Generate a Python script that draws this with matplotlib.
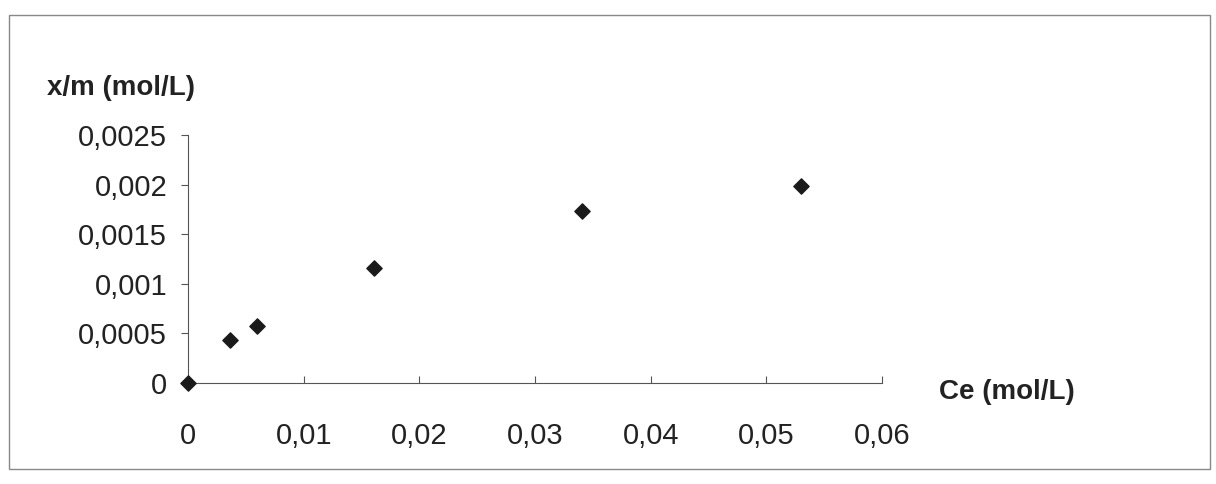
import matplotlib.pyplot as plt
from matplotlib.patches import Rectangle

plt.rcParams['font.family'] = ['Liberation Sans', 'DejaVu Sans']

# data
ce = [0.0, 0.0036, 0.0060, 0.0161, 0.0341, 0.0530]
xm = [0.0, 0.00043, 0.000575, 0.00116, 0.00173, 0.00199]

x_ticks = [0, 0.01, 0.02, 0.03, 0.04, 0.05, 0.06]
x_labels = ['0', '0,01', '0,02', '0,03', '0,04', '0,05', '0,06']
y_ticks = [0, 0.0005, 0.001, 0.0015, 0.002, 0.0025]
y_labels = ['0', '0,0005', '0,001', '0,0015', '0,002', '0,0025']

fig = plt.figure(figsize=(12.16, 4.84), dpi=100)
ax = fig.add_axes([0.1546, 0.2087, 0.5707, 0.5124])

# outer chart frame
fig.patches.append(Rectangle((0.007, 0.03), 0.988, 0.94, transform=fig.transFigure,
                             fill=False, edgecolor='#888888', linewidth=1))

ax.scatter(ce, xm, marker='D', s=60, color='#1a1a1a', zorder=3, clip_on=False)

ax.set_xlim(0, 0.06)
ax.set_ylim(0, 0.0025)
ax.set_xticks(x_ticks)
ax.set_xticklabels(x_labels)
ax.set_yticks(y_ticks)
ax.set_yticklabels(y_labels)

ax.spines['top'].set_visible(False)
ax.spines['right'].set_visible(False)
for s in ['left', 'bottom']:
    ax.spines[s].set_color('#555555')
    ax.spines[s].set_linewidth(0.8)

ax.tick_params(axis='x', direction='in', length=5, pad=28, labelsize=21, color='#555555',
               labelcolor='#222222')
ax.tick_params(axis='y', direction='out', length=5, pad=10, labelsize=21, color='#555555',
               labelcolor='#222222')

fig.text(0.039, 0.818, 'x/m (mol/L)', fontsize=20, fontweight='bold', va='center', color='#222222')
fig.text(0.772, 0.19, 'Ce (mol/L)', fontsize=20, fontweight='bold', va='center', color='#222222')

fig.savefig('out.png', dpi=100)
